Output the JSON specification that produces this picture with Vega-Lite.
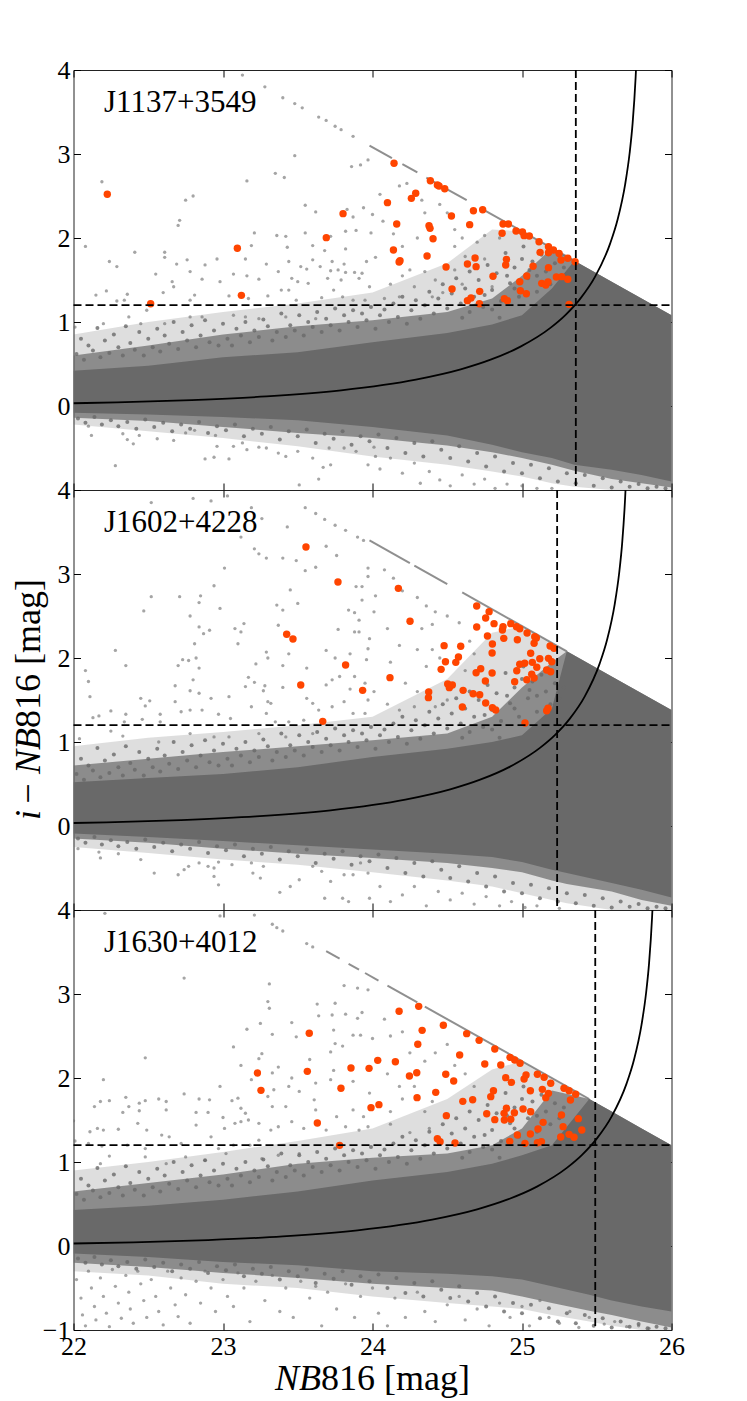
{
"$schema":"https://vega.github.io/schema/vega-lite/v6.json",
"padding":{"left":10.5,"top":56,"right":0,"bottom":0},
"spacing":0,
"bounds":"flush",
"background":"white",
"config":{"view":{"stroke":"#222","strokeWidth":1,"continuousWidth":598,"continuousHeight":420},
"axis":{"grid":false,"domain":false,"tickSize":-7,"tickColor":"black","tickWidth":1,"labelFont":"Liberation Serif","labelFontSize":26,"labelColor":"black","labelPadding":10.5,"title":null,"zindex":1,"labelFlush":false,"labelOverlap":false,"labelBound":false}},
"datasets":{
"f":[{"x":22.02,"y":0.62},{"x":22.05,"y":0.8},{"x":22.07,"y":0.55},{"x":22.1,"y":0.72},{"x":22.13,"y":0.66},{"x":22.16,"y":0.93},{"x":22.18,"y":0.58},{"x":22.21,"y":0.78},{"x":22.24,"y":0.63},{"x":22.27,"y":0.85},{"x":22.3,"y":0.7},{"x":22.33,"y":0.6},{"x":22.35,"y":0.95},{"x":22.38,"y":0.75},{"x":22.41,"y":0.67},{"x":22.44,"y":0.88},{"x":22.47,"y":0.6},{"x":22.5,"y":0.8},{"x":22.53,"y":0.7},{"x":22.56,"y":0.92},{"x":22.58,"y":0.65},{"x":22.61,"y":0.84},{"x":22.64,"y":0.74},{"x":22.67,"y":1.0},{"x":22.7,"y":0.68},{"x":22.73,"y":0.88},{"x":22.76,"y":0.78},{"x":22.79,"y":0.96},{"x":22.82,"y":0.7},{"x":22.85,"y":0.84},{"x":22.88,"y":1.02},{"x":22.91,"y":0.76},{"x":22.94,"y":0.9},{"x":22.97,"y":0.72},{"x":23,"y":0.98},{"x":23.03,"y":0.8},{"x":23.06,"y":0.72},{"x":23.09,"y":0.92},{"x":23.12,"y":0.84},{"x":23.15,"y":1.0},{"x":23.18,"y":0.76},{"x":23.21,"y":0.9},{"x":23.24,"y":0.82},{"x":23.27,"y":1.03},{"x":23.3,"y":0.95},{"x":23.33,"y":0.78},{"x":23.36,"y":0.88},{"x":23.39,"y":1.1},{"x":23.42,"y":0.82},{"x":23.45,"y":0.96},{"x":23.48,"y":0.9},{"x":23.51,"y":1.08},{"x":23.54,"y":0.84},{"x":23.57,"y":1.0},{"x":23.6,"y":0.94},{"x":23.63,"y":1.12},{"x":23.66,"y":0.88},{"x":23.69,"y":1.04},{"x":23.72,"y":0.96},{"x":23.75,"y":1.16},{"x":23.78,"y":0.9},{"x":23.81,"y":1.08},{"x":23.84,"y":1.0},{"x":23.87,"y":1.14},{"x":23.9,"y":0.94},{"x":23.93,"y":1.1},{"x":23.96,"y":1.02},{"x":23.99,"y":1.18},{"x":24.02,"y":0.92},{"x":24.05,"y":1.08},{"x":24.08,"y":1.15},{"x":24.11,"y":1.0},{"x":24.14,"y":1.22},{"x":24.17,"y":1.06},{"x":24.2,"y":1.3},{"x":24.23,"y":0.98},{"x":24.26,"y":1.14},{"x":24.29,"y":1.26},{"x":24.32,"y":1.04},{"x":24.35,"y":1.2},{"x":24.38,"y":1.36},{"x":24.41,"y":1.1},{"x":24.44,"y":1.28},{"x":24.47,"y":1.45},{"x":24.5,"y":1.16},{"x":24.53,"y":1.34},{"x":24.56,"y":1.52},{"x":24.59,"y":1.22},{"x":24.62,"y":1.4},{"x":24.65,"y":1.6},{"x":24.68,"y":1.3},{"x":24.71,"y":1.5},{"x":24.74,"y":1.18},{"x":24.77,"y":1.68},{"x":24.8,"y":1.38},{"x":24.83,"y":1.58},{"x":24.86,"y":1.25},{"x":24.89,"y":1.82},{"x":24.92,"y":1.46},{"x":24.95,"y":1.65},{"x":24.98,"y":1.3},{"x":25.01,"y":1.9},{"x":25.04,"y":1.52},{"x":25.07,"y":1.72},{"x":25.1,"y":1.36},{"x":25.13,"y":1.8},{"x":25.16,"y":1.6},{"x":25.19,"y":1.45},{"x":25.22,"y":1.7},{"x":25.25,"y":1.52},{"x":25.28,"y":1.65},{"x":24.9,"y":1.55},{"x":24.95,"y":1.4},{"x":25,"y":1.75},{"x":25.05,"y":1.62},{"x":25.1,"y":1.55},{"x":24.8,"y":1.15},{"x":24.85,"y":1.05},{"x":24.75,"y":1.32},{"x":24.6,"y":1.05},{"x":24.65,"y":1.12},{"x":22.03,"y":-0.15},{"x":22.08,"y":-0.2},{"x":22.14,"y":-0.13},{"x":22.19,"y":-0.22},{"x":22.25,"y":-0.17},{"x":22.3,"y":-0.24},{"x":22.36,"y":-0.19},{"x":22.42,"y":-0.27},{"x":22.48,"y":-0.16},{"x":22.54,"y":-0.25},{"x":22.6,"y":-0.2},{"x":22.66,"y":-0.3},{"x":22.72,"y":-0.22},{"x":22.78,"y":-0.27},{"x":22.84,"y":-0.19},{"x":22.9,"y":-0.32},{"x":22.96,"y":-0.24},{"x":23.02,"y":-0.29},{"x":23.08,"y":-0.22},{"x":23.14,"y":-0.36},{"x":23.2,"y":-0.27},{"x":23.26,"y":-0.33},{"x":23.32,"y":-0.25},{"x":23.38,"y":-0.4},{"x":23.44,"y":-0.3},{"x":23.5,"y":-0.36},{"x":23.56,"y":-0.28},{"x":23.62,"y":-0.44},{"x":23.68,"y":-0.33},{"x":23.74,"y":-0.39},{"x":23.8,"y":-0.3},{"x":23.86,"y":-0.46},{"x":23.92,"y":-0.36},{"x":23.98,"y":-0.42},{"x":24.04,"y":-0.34},{"x":24.1,"y":-0.5},{"x":24.16,"y":-0.38},{"x":24.22,"y":-0.56},{"x":24.28,"y":-0.44},{"x":24.34,"y":-0.6},{"x":24.4,"y":-0.42},{"x":24.46,"y":-0.52},{"x":24.52,"y":-0.62},{"x":24.58,"y":-0.48},{"x":24.64,"y":-0.66},{"x":24.7,"y":-0.56},{"x":24.76,"y":-0.72},{"x":24.82,"y":-0.6},{"x":24.88,"y":-0.78},{"x":24.94,"y":-0.68},{"x":25,"y":-0.8},{"x":25.06,"y":-0.7},{"x":25.12,"y":-0.86},{"x":25.18,"y":-0.74},{"x":25.24,"y":-0.9},{"x":25.3,"y":-0.8},{"x":25.36,"y":-0.92},{"x":25.42,"y":-0.82},{"x":25.48,"y":-0.95},{"x":25.54,"y":-0.86},{"x":25.6,"y":-0.97},{"x":25.66,"y":-0.9},{"x":25.72,"y":-0.96},{"x":25.78,"y":-0.93},{"x":25.84,"y":-0.98},{"x":25.9,"y":-0.96},{"x":25.96,"y":-0.98}],
"b1":[
{"x":22,"l2":-0.22,"l1":-0.14,"l0":-0.08,"h0":0.42,"h1":0.6,"h2":0.85},
{"x":22.5,"l2":-0.3,"l1":-0.18,"l0":-0.1,"h0":0.48,"h1":0.72,"h2":1.0},
{"x":23,"l2":-0.38,"l1":-0.25,"l0":-0.13,"h0":0.58,"h1":0.85,"h2":1.12},
{"x":23.5,"l2":-0.48,"l1":-0.32,"l0":-0.17,"h0":0.64,"h1":0.95,"h2":1.22},
{"x":24,"l2":-0.6,"l1":-0.38,"l0":-0.25,"h0":0.76,"h1":1.02,"h2":1.35},
{"x":24.5,"l2":-0.7,"l1":-0.47,"l0":-0.35,"h0":0.87,"h1":1.12,"h2":1.7},
{"x":24.8,"l2":-0.78,"l1":-0.55,"l0":-0.46,"h0":0.97,"h1":1.28,"h2":2.1},
{"x":25,"l2":-0.84,"l1":-0.62,"l0":-0.55,"h0":1.08,"h1":1.55,"h2":2.08},
{"x":25.2,"l2":-0.92,"l1":-0.7,"l0":-0.62,"h0":1.4,"h1":1.88,"h2":1.88},
{"x":25.35,"l2":-0.96,"l1":-0.77,"l0":-0.7,"h0":1.73,"h1":1.73,"h2":1.73},
{"x":25.6,"l2":-1,"l1":-0.87,"l0":-0.76,"h0":1.48,"h1":1.48,"h2":1.48},
{"x":25.8,"l2":-1,"l1":-0.92,"l0":-0.82,"h0":1.28,"h1":1.28,"h2":1.28},
{"x":26,"l2":-1,"l1":-0.97,"l0":-0.9,"h0":1.08,"h1":1.08,"h2":1.08}],
"b2":[
{"x":22,"l2":-0.25,"l1":-0.15,"l0":-0.09,"h0":0.52,"h1":0.72,"h2":0.95},
{"x":22.5,"l2":-0.32,"l1":-0.2,"l0":-0.13,"h0":0.57,"h1":0.8,"h2":1.05},
{"x":23,"l2":-0.4,"l1":-0.27,"l0":-0.18,"h0":0.62,"h1":0.88,"h2":1.12},
{"x":23.5,"l2":-0.46,"l1":-0.33,"l0":-0.23,"h0":0.7,"h1":0.95,"h2":1.2},
{"x":24,"l2":-0.55,"l1":-0.38,"l0":-0.28,"h0":0.82,"h1":1.02,"h2":1.3},
{"x":24.5,"l2":-0.65,"l1":-0.44,"l0":-0.33,"h0":0.92,"h1":1.1,"h2":1.75},
{"x":24.8,"l2":-0.72,"l1":-0.5,"l0":-0.37,"h0":1.0,"h1":1.3,"h2":2.3},
{"x":25,"l2":-0.8,"l1":-0.55,"l0":-0.43,"h0":1.08,"h1":1.65,"h2":2.38},
{"x":25.2,"l2":-0.88,"l1":-0.65,"l0":-0.52,"h0":1.4,"h1":1.95,"h2":2.18},
{"x":25.3,"l2":-0.92,"l1":-0.69,"l0":-0.56,"h0":2.08,"h1":2.08,"h2":2.08},
{"x":25.6,"l2":-1,"l1":-0.78,"l0":-0.68,"h0":1.78,"h1":1.78,"h2":1.78},
{"x":25.8,"l2":-1,"l1":-0.88,"l0":-0.76,"h0":1.58,"h1":1.58,"h2":1.58},
{"x":26,"l2":-1,"l1":-0.95,"l0":-0.85,"h0":1.38,"h1":1.38,"h2":1.38}],
"b3":[
{"x":22,"l2":-0.3,"l1":-0.2,"l0":-0.09,"h0":0.43,"h1":0.65,"h2":0.9},
{"x":22.5,"l2":-0.35,"l1":-0.25,"l0":-0.13,"h0":0.48,"h1":0.75,"h2":1.0},
{"x":23,"l2":-0.45,"l1":-0.32,"l0":-0.19,"h0":0.55,"h1":0.85,"h2":1.12},
{"x":23.5,"l2":-0.5,"l1":-0.38,"l0":-0.23,"h0":0.65,"h1":0.98,"h2":1.25},
{"x":24,"l2":-0.6,"l1":-0.45,"l0":-0.3,"h0":0.78,"h1":1.05,"h2":1.4},
{"x":24.5,"l2":-0.68,"l1":-0.5,"l0":-0.33,"h0":0.88,"h1":1.1,"h2":1.75},
{"x":24.8,"l2":-0.72,"l1":-0.53,"l0":-0.36,"h0":0.98,"h1":1.2,"h2":2.1},
{"x":25,"l2":-0.75,"l1":-0.6,"l0":-0.4,"h0":1.08,"h1":1.4,"h2":2.2},
{"x":25.2,"l2":-0.82,"l1":-0.68,"l0":-0.48,"h0":1.2,"h1":1.85,"h2":2.0},
{"x":25.45,"l2":-0.9,"l1":-0.77,"l0":-0.58,"h0":1.75,"h1":1.75,"h2":1.75},
{"x":25.6,"l2":-0.95,"l1":-0.82,"l0":-0.65,"h0":1.6,"h1":1.6,"h2":1.6},
{"x":25.8,"l2":-1,"l1":-0.9,"l0":-0.72,"h0":1.4,"h1":1.4,"h2":1.4},
{"x":26,"l2":-1,"l1":-0.97,"l0":-0.78,"h0":1.2,"h1":1.2,"h2":1.2}],
"c1":[{"x":22,"y":0.033},{"x":22.29,"y":0.044},{"x":22.79,"y":0.071},{"x":23.29,"y":0.114},{"x":23.79,"y":0.187},{"x":24.29,"y":0.314},{"x":24.59,"y":0.436},{"x":24.79,"y":0.551},{"x":24.99,"y":0.707},{"x":25.19,"y":0.93},{"x":25.29,"y":1.082},{"x":25.39,"y":1.278},{"x":25.49,"y":1.543},{"x":25.59,"y":1.936},{"x":25.64,"y":2.223},{"x":25.69,"y":2.639},{"x":25.72,"y":3.012},{"x":25.74,"y":3.367},{"x":25.76,"y":3.91},{"x":25.764,"y":4.06}],
"c2":[{"x":22,"y":0.036},{"x":22.22,"y":0.044},{"x":22.72,"y":0.071},{"x":23.22,"y":0.114},{"x":23.72,"y":0.187},{"x":24.22,"y":0.314},{"x":24.52,"y":0.436},{"x":24.72,"y":0.551},{"x":24.92,"y":0.707},{"x":25.12,"y":0.93},{"x":25.22,"y":1.082},{"x":25.32,"y":1.278},{"x":25.42,"y":1.543},{"x":25.52,"y":1.936},{"x":25.57,"y":2.223},{"x":25.62,"y":2.639},{"x":25.65,"y":3.012},{"x":25.67,"y":3.367},{"x":25.69,"y":3.91},{"x":25.694,"y":4.06}],
"c3":[{"x":22,"y":0.03},{"x":22.4,"y":0.044},{"x":22.9,"y":0.071},{"x":23.4,"y":0.114},{"x":23.9,"y":0.187},{"x":24.4,"y":0.314},{"x":24.7,"y":0.436},{"x":24.9,"y":0.551},{"x":25.1,"y":0.707},{"x":25.3,"y":0.93},{"x":25.4,"y":1.082},{"x":25.5,"y":1.278},{"x":25.6,"y":1.543},{"x":25.7,"y":1.936},{"x":25.75,"y":2.223},{"x":25.8,"y":2.639},{"x":25.83,"y":3.012},{"x":25.85,"y":3.367},{"x":25.87,"y":3.91},{"x":25.874,"y":4.06}],
"r1":[{"s":1,"x":23.98,"y":3.1},{"s":1,"x":24.13,"y":2.95},{"s":2,"x":24.2,"y":2.88},{"s":2,"x":24.3,"y":2.78},{"s":3,"x":24.36,"y":2.72},{"s":3,"x":24.42,"y":2.66},{"s":4,"x":24.5,"y":2.58},{"s":4,"x":24.63,"y":2.45},{"s":5,"x":24.72,"y":2.36},{"s":5,"x":25.35,"y":1.73}],
"r2":[{"s":1,"x":23.98,"y":3.4},{"s":1,"x":24.25,"y":3.13},{"s":2,"x":24.28,"y":3.1},{"s":2,"x":24.5,"y":2.88},{"s":3,"x":24.6,"y":2.78},{"s":3,"x":25.3,"y":2.08}],
"r3":[{"s":1,"x":23.69,"y":3.51},{"s":1,"x":23.78,"y":3.42},{"s":2,"x":23.84,"y":3.36},{"s":2,"x":23.91,"y":3.29},{"s":3,"x":23.95,"y":3.25},{"s":3,"x":24.04,"y":3.16},{"s":4,"x":24.1,"y":3.1},{"s":4,"x":24.3,"y":2.9},{"s":5,"x":24.35,"y":2.85},{"s":5,"x":25.45,"y":1.75}],
"o1":[{"x":24.144,"y":2.889},{"x":24.387,"y":2.682},{"x":24.434,"y":2.631},{"x":24.445,"y":2.619},{"x":24.483,"y":2.587},{"x":24.289,"y":2.532},{"x":24.26,"y":2.472},{"x":24.1,"y":2.421},{"x":24.162,"y":2.167},{"x":24.378,"y":2.147},{"x":24.385,"y":2.115},{"x":24.405,"y":1.992},{"x":24.528,"y":2.262},{"x":24.675,"y":2.325},{"x":24.737,"y":2.337},{"x":24.65,"y":2.159},{"x":24.873,"y":2.167},{"x":24.909,"y":2.167},{"x":24.867,"y":2.056},{"x":24.96,"y":2.083},{"x":25.003,"y":2.071},{"x":25.014,"y":2.028},{"x":25.049,"y":2.024},{"x":25.114,"y":1.956},{"x":25.121,"y":1.829},{"x":25.177,"y":1.897},{"x":25.177,"y":1.825},{"x":25.21,"y":1.857},{"x":25.248,"y":1.817},{"x":25.261,"y":1.738},{"x":25.306,"y":1.758},{"x":25.355,"y":1.718},{"x":25.074,"y":1.663},{"x":25.177,"y":1.647},{"x":25.032,"y":1.548},{"x":24.985,"y":1.48},{"x":25.23,"y":1.536},{"x":25.266,"y":1.54},{"x":25.306,"y":1.508},{"x":25.132,"y":1.46},{"x":25.159,"y":1.44},{"x":25.174,"y":1.476},{"x":24.14,"y":1.857},{"x":24.184,"y":1.73},{"x":24.178,"y":1.714},{"x":24.365,"y":1.786},{"x":24.492,"y":1.655},{"x":24.635,"y":1.69},{"x":24.686,"y":1.762},{"x":24.693,"y":1.659},{"x":24.806,"y":1.544},{"x":24.532,"y":1.393},{"x":24.717,"y":1.365},{"x":24.896,"y":1.746},{"x":24.891,"y":1.679},{"x":24.989,"y":1.373},{"x":25.029,"y":1.337},{"x":24.635,"y":1.254},{"x":24.659,"y":1.286},{"x":24.715,"y":1.218},{"x":24.882,"y":1.278},{"x":24.902,"y":1.254},{"x":25.315,"y":1.21},{"x":22.226,"y":2.52},{"x":22.516,"y":1.218},{"x":23.096,"y":1.877},{"x":23.123,"y":1.317},{"x":23.691,"y":2.004},{"x":23.803,"y":2.29}],
"o2":[{"x":24.173,"y":2.829},{"x":24.251,"y":2.437},{"x":24.697,"y":2.619},{"x":24.78,"y":2.552},{"x":24.757,"y":2.476},{"x":24.813,"y":2.409},{"x":24.697,"y":2.369},{"x":24.873,"y":2.373},{"x":24.869,"y":2.333},{"x":24.925,"y":2.409},{"x":24.963,"y":2.373},{"x":24.985,"y":2.349},{"x":25.034,"y":2.298},{"x":25.085,"y":2.254},{"x":25.096,"y":2.238},{"x":25.081,"y":2.175},{"x":24.769,"y":2.262},{"x":24.878,"y":2.234},{"x":24.969,"y":2.218},{"x":24.802,"y":2.167},{"x":24.8,"y":2.06},{"x":24.479,"y":2.147},{"x":24.59,"y":2.139},{"x":24.575,"y":2.012},{"x":24.557,"y":1.948},{"x":24.488,"y":1.956},{"x":24.459,"y":1.865},{"x":24.117,"y":1.766},{"x":24.724,"y":1.873},{"x":24.693,"y":1.825},{"x":24.8,"y":1.821},{"x":24.755,"y":1.726},{"x":24.951,"y":1.718},{"x":24.965,"y":1.849},{"x":24.985,"y":1.925},{"x":25.018,"y":1.937},{"x":25.069,"y":1.948},{"x":25.058,"y":2.056},{"x":25.119,"y":1.992},{"x":25.099,"y":1.889},{"x":25.188,"y":2.143},{"x":25.214,"y":2.115},{"x":25.177,"y":1.996},{"x":25.199,"y":1.956},{"x":25.165,"y":1.857},{"x":25.192,"y":1.837},{"x":25.065,"y":1.806},{"x":25.081,"y":1.762},{"x":25.032,"y":1.742},{"x":24.503,"y":1.69},{"x":24.534,"y":1.679},{"x":24.514,"y":1.647},{"x":24.606,"y":1.615},{"x":24.673,"y":1.575},{"x":24.717,"y":1.563},{"x":24.376,"y":1.595},{"x":24.374,"y":1.528},{"x":24.757,"y":1.464},{"x":24.802,"y":1.409},{"x":24.824,"y":1.381},{"x":24.601,"y":1.417},{"x":25.174,"y":1.401},{"x":25.165,"y":1.373},{"x":25.02,"y":1.226},{"x":23.555,"y":3.321},{"x":23.769,"y":2.905},{"x":23.426,"y":2.282},{"x":23.468,"y":2.226},{"x":23.82,"y":1.917},{"x":23.52,"y":1.679},{"x":23.934,"y":1.615},{"x":23.667,"y":1.246}],
"o3":[{"x":23.577,"y":2.532},{"x":23.23,"y":2.06},{"x":23.254,"y":1.853},{"x":23.564,"y":2.079},{"x":23.856,"y":2.119},{"x":23.977,"y":2.115},{"x":24.035,"y":2.21},{"x":23.789,"y":1.877},{"x":23.99,"y":1.647},{"x":24.043,"y":1.683},{"x":23.631,"y":1.464},{"x":23.78,"y":1.198},{"x":24.178,"y":2.794},{"x":24.309,"y":2.853},{"x":24.332,"y":2.567},{"x":24.474,"y":2.627},{"x":24.303,"y":2.401},{"x":24.63,"y":2.528},{"x":24.713,"y":2.448},{"x":24.818,"y":2.345},{"x":24.153,"y":2.194},{"x":24.583,"y":2.274},{"x":24.751,"y":2.167},{"x":24.858,"y":2.155},{"x":24.92,"y":2.246},{"x":24.951,"y":2.214},{"x":24.987,"y":2.175},{"x":24.296,"y":2.063},{"x":24.247,"y":2.024},{"x":24.49,"y":2.044},{"x":24.543,"y":1.964},{"x":24.891,"y":2.004},{"x":24.929,"y":1.948},{"x":25.027,"y":2.036},{"x":25.014,"y":1.988},{"x":25.103,"y":2.044},{"x":25.148,"y":2.008},{"x":25.192,"y":1.937},{"x":25.281,"y":1.877},{"x":25.315,"y":1.849},{"x":25.359,"y":1.806},{"x":24.423,"y":1.829},{"x":24.298,"y":1.766},{"x":24.809,"y":1.849},{"x":24.791,"y":1.778},{"x":25.056,"y":1.849},{"x":25.136,"y":1.865},{"x":25.177,"y":1.817},{"x":25.159,"y":1.766},{"x":25.324,"y":1.738},{"x":24.67,"y":1.742},{"x":24.604,"y":1.722},{"x":24.494,"y":1.552},{"x":24.764,"y":1.575},{"x":24.818,"y":1.504},{"x":24.88,"y":1.579},{"x":24.896,"y":1.639},{"x":24.949,"y":1.587},{"x":24.882,"y":1.5},{"x":24.925,"y":1.508},{"x":25.007,"y":1.631},{"x":25.058,"y":1.599},{"x":25.264,"y":1.56},{"x":25.377,"y":1.516},{"x":25.141,"y":1.472},{"x":25.107,"y":1.393},{"x":25.275,"y":1.421},{"x":25.4,"y":1.381},{"x":24.969,"y":1.321},{"x":25.056,"y":1.333},{"x":25.259,"y":1.298},{"x":25.315,"y":1.329},{"x":25.348,"y":1.294},{"x":24.434,"y":1.278},{"x":24.452,"y":1.242},{"x":24.552,"y":1.226},{"x":24.918,"y":1.246},{"x":25.02,"y":1.222},{"x":25.103,"y":1.23},{"x":25.13,"y":1.242}],
"g1":[{"x":22.19,"y":2.67},{"x":22.08,"y":1.9},{"x":22.24,"y":1.72},{"x":22.29,"y":1.66},{"x":22.41,"y":1.83},{"x":22.55,"y":1.57},{"x":22.61,"y":1.83},{"x":22.61,"y":1.77},{"x":22.69,"y":1.69},{"x":22.76,"y":1.74},{"x":22.78,"y":1.6},{"x":22.66,"y":1.48},{"x":22.67,"y":1.42},{"x":22.86,"y":1.51},{"x":22.98,"y":1.48},{"x":22.88,"y":1.68},{"x":22.96,"y":1.75},{"x":22.75,"y":2.45},{"x":22.8,"y":2.5},{"x":22.71,"y":2.21},{"x":22.7,"y":2.15},{"x":23.16,"y":2.68},{"x":23.13,"y":3.94},{"x":23.28,"y":3.8},{"x":23.4,"y":3.67},{"x":23.48,"y":3.6},{"x":23.53,"y":3.55},{"x":23.64,"y":3.44},{"x":23.69,"y":3.4},{"x":23.75,"y":3.33},{"x":23.79,"y":3.29},{"x":23.87,"y":3.21},{"x":23.48,"y":2.98},{"x":23.35,"y":2.77},{"x":23.41,"y":2.72},{"x":23.55,"y":2.39},{"x":23.62,"y":2.31},{"x":23.86,"y":2.85},{"x":23.92,"y":2.87},{"x":23.97,"y":2.93},{"x":23.94,"y":2.36},{"x":24.0,"y":2.28},{"x":23.83,"y":2.34},{"x":23.87,"y":2.25},{"x":23.21,"y":2.06},{"x":23.36,"y":2.03},{"x":23.42,"y":2.02},{"x":23.55,"y":2.06},{"x":23.43,"y":1.89},{"x":23.6,"y":1.91},{"x":23.68,"y":1.85},{"x":23.72,"y":2.02},{"x":23.82,"y":2.08},{"x":23.89,"y":2.09},{"x":23.99,"y":2.06},{"x":23.82,"y":1.87},{"x":23.19,"y":1.91},{"x":23.15,"y":1.75},{"x":23.29,"y":1.69},{"x":23.44,"y":1.72},{"x":23.6,"y":1.74},{"x":23.52,"y":1.66},{"x":23.56,"y":1.63},{"x":23.65,"y":1.66},{"x":23.73,"y":1.72},{"x":23.72,"y":1.61},{"x":23.77,"y":1.62},{"x":23.81,"y":1.69},{"x":23.82,"y":1.59},{"x":23.88,"y":1.59},{"x":23.93,"y":1.58},{"x":23.96,"y":1.72},{"x":24.02,"y":1.77},{"x":23.07,"y":1.57},{"x":23.16,"y":1.55},{"x":23.24,"y":1.51},{"x":23.37,"y":1.6},{"x":23.46,"y":1.52},{"x":23.5,"y":1.48},{"x":23.57,"y":1.46},{"x":23.7,"y":1.52},{"x":23.79,"y":1.5},{"x":23.91,"y":1.52},{"x":23.98,"y":1.42},{"x":22.15,"y":1.32},{"x":22.22,"y":1.37},{"x":22.29,"y":1.25},{"x":22.34,"y":1.26},{"x":22.36,"y":1.33},{"x":22.49,"y":1.14},{"x":22.6,"y":1.35},{"x":22.81,"y":1.32},{"x":22.78,"y":1.26},{"x":23.04,"y":1.31},{"x":23.17,"y":1.28},{"x":23.3,"y":1.31},{"x":23.39,"y":1.38},{"x":23.44,"y":1.38},{"x":23.49,"y":1.26},{"x":23.66,"y":1.29},{"x":23.74,"y":1.38},{"x":23.8,"y":1.3},{"x":23.87,"y":1.26},{"x":23.95,"y":1.26},{"x":22.37,"y":1.06},{"x":22.01,"y":0.94},{"x":22.2,"y":0.98},{"x":22.45,"y":0.98},{"x":22.61,"y":0.98},{"x":22.78,"y":1.06},{"x":22.86,"y":1.06},{"x":23.07,"y":1.08},{"x":23.15,"y":1.06},{"x":23.24,"y":1.04},{"x":23.42,"y":1.06},{"x":23.62,"y":1.04},{"x":22.12,"y":-0.35},{"x":22.1,"y":-0.24},{"x":22.28,"y":-0.71},{"x":22.33,"y":-0.33},{"x":22.36,"y":-0.4},{"x":22.4,"y":-0.45},{"x":22.44,"y":-0.35},{"x":22.56,"y":-0.39},{"x":22.67,"y":-0.41},{"x":22.75,"y":-0.32},{"x":22.81,"y":-0.29},{"x":22.88,"y":-0.63},{"x":22.94,"y":-0.61},{"x":22.95,"y":-0.35},{"x":22.96,"y":-0.48},{"x":23.04,"y":-0.63},{"x":23.07,"y":-0.48},{"x":23.13,"y":-0.44},{"x":23.16,"y":-0.52},{"x":23.24,"y":-0.49},{"x":23.29,"y":-0.5},{"x":23.37,"y":-0.56},{"x":23.42,"y":-0.6},{"x":23.5,"y":-0.54},{"x":23.51,"y":-0.94},{"x":23.6,"y":-0.62},{"x":23.64,"y":-0.87},{"x":23.67,"y":-0.73},{"x":23.72,"y":-0.7},{"x":23.71,"y":-0.5},{"x":23.81,"y":-0.5},{"x":23.89,"y":-0.54},{"x":23.97,"y":-0.7},{"x":24.01,"y":-0.49},{"x":24.02,"y":-0.6},{"x":24.05,"y":2.52},{"x":24.18,"y":2.62},{"x":24.23,"y":2.65},{"x":24.07,"y":2.2},{"x":24.14,"y":2.05},{"x":24.2,"y":1.9},{"x":24.3,"y":2.0},{"x":24.35,"y":2.3},{"x":24.33,"y":2.45},{"x":24.45,"y":2.4},{"x":24.5,"y":2.3},{"x":24.55,"y":2.1},{"x":24.6,"y":2.0},{"x":24.55,"y":1.9},{"x":24.62,"y":1.78},{"x":24.7,"y":1.95},{"x":24.75,"y":2.03},{"x":24.85,"y":2.0},{"x":24.12,"y":1.45},{"x":24.2,"y":1.55},{"x":24.28,"y":1.42},{"x":24.35,"y":1.6},{"x":24.42,"y":1.5},{"x":24.47,"y":1.35},{"x":24.55,"y":1.62},{"x":24.6,"y":1.45},{"x":24.75,"y":1.75},{"x":24.8,"y":1.42},{"x":24.08,"y":1.28},{"x":24.18,"y":1.3},{"x":24.25,"y":1.62},{"x":24.4,"y":1.3},{"x":24.05,"y":-0.75},{"x":24.12,"y":-0.62},{"x":24.2,"y":-0.8},{"x":24.28,"y":-0.68},{"x":24.32,"y":-0.92},{"x":24.38,"y":-0.78},{"x":24.45,"y":-0.88},{"x":24.52,"y":-0.95},{"x":24.6,"y":-0.82},{"x":24.68,"y":-0.93},{"x":24.75,"y":-0.87},{"x":24.82,"y":-0.98},{"x":24.9,"y":-0.93},{"x":25,"y":-0.95},{"x":25.1,"y":-0.98},{"x":25.2,"y":-0.98}],
"g2":[{"x":22.52,"y":3.85},{"x":22.8,"y":3.9},{"x":22.92,"y":3.87},{"x":23.03,"y":3.93},{"x":23.19,"y":3.79},{"x":23.26,"y":3.66},{"x":23.12,"y":3.44},{"x":23.21,"y":3.3},{"x":23.24,"y":3.24},{"x":23.29,"y":3.19},{"x":23.4,"y":3.19},{"x":23.49,"y":3.16},{"x":23.43,"y":3.56},{"x":23.55,"y":3.79},{"x":23.62,"y":3.72},{"x":23.68,"y":3.65},{"x":23.75,"y":3.58},{"x":23.82,"y":3.52},{"x":23.9,"y":3.44},{"x":23.94,"y":3.4},{"x":23.69,"y":3.33},{"x":23.76,"y":3.22},{"x":23.62,"y":3.08},{"x":23.55,"y":3.04},{"x":23.45,"y":2.81},{"x":23.97,"y":3.07},{"x":23.01,"y":3.07},{"x":22.94,"y":2.86},{"x":22.98,"y":2.59},{"x":22.71,"y":2.73},{"x":22.52,"y":2.73},{"x":22.47,"y":2.56},{"x":22.85,"y":2.74},{"x":22.84,"y":2.66},{"x":22.78,"y":2.5},{"x":22.84,"y":2.37},{"x":22.87,"y":2.29},{"x":22.91,"y":2.33},{"x":22.81,"y":2.17},{"x":22.28,"y":2.09},{"x":22.35,"y":1.91},{"x":22.08,"y":1.85},{"x":22.1,"y":1.72},{"x":22.11,"y":1.54},{"x":22.7,"y":1.91},{"x":22.73,"y":1.98},{"x":22.77,"y":1.97},{"x":22.82,"y":2.0},{"x":22.84,"y":1.88},{"x":22.8,"y":1.74},{"x":22.68,"y":1.67},{"x":22.78,"y":1.61},{"x":22.84,"y":1.58},{"x":22.45,"y":1.52},{"x":22.51,"y":1.49},{"x":22.48,"y":1.43},{"x":22.68,"y":1.48},{"x":22.92,"y":1.52},{"x":23.04,"y":1.54},{"x":23.08,"y":2.35},{"x":23.14,"y":2.41},{"x":23.12,"y":2.31},{"x":23.1,"y":2.17},{"x":23.29,"y":2.07},{"x":23.3,"y":2.0},{"x":23.22,"y":1.93},{"x":23.4,"y":1.91},{"x":23.44,"y":2.05},{"x":23.56,"y":1.88},{"x":23.36,"y":2.63},{"x":23.4,"y":2.57},{"x":23.5,"y":2.65},{"x":23.37,"y":2.39},{"x":23.17,"y":1.77},{"x":23.21,"y":1.71},{"x":23.15,"y":1.66},{"x":23.28,"y":1.67},{"x":23.27,"y":1.61},{"x":23.3,"y":1.48},{"x":23.4,"y":1.65},{"x":23.56,"y":1.52},{"x":23.6,"y":1.46},{"x":23.69,"y":1.68},{"x":23.73,"y":1.74},{"x":23.78,"y":1.78},{"x":23.75,"y":2.0},{"x":23.85,"y":2.05},{"x":23.69,"y":2.09},{"x":23.77,"y":2.34},{"x":23.88,"y":2.31},{"x":23.91,"y":2.31},{"x":23.84,"y":2.57},{"x":23.88,"y":2.54},{"x":23.91,"y":2.45},{"x":23.89,"y":2.85},{"x":23.93,"y":2.85},{"x":23.93,"y":2.69},{"x":24.02,"y":2.74},{"x":24.01,"y":2.55},{"x":23.97,"y":2.97},{"x":23.98,"y":2.23},{"x":23.97,"y":2.11},{"x":23.96,"y":1.98},{"x":23.85,"y":1.63},{"x":23.88,"y":1.78},{"x":23.95,"y":1.7},{"x":24.01,"y":1.6},{"x":23.97,"y":1.5},{"x":22.17,"y":1.31},{"x":22.25,"y":1.37},{"x":22.13,"y":1.29},{"x":22.35,"y":1.33},{"x":22.34,"y":1.24},{"x":22.46,"y":1.27},{"x":22.58,"y":1.33},{"x":22.58,"y":1.24},{"x":22.72,"y":1.36},{"x":22.78,"y":1.38},{"x":22.86,"y":1.38},{"x":22.97,"y":1.33},{"x":23.05,"y":1.28},{"x":23.19,"y":1.42},{"x":23.29,"y":1.34},{"x":23.32,"y":1.46},{"x":23.35,"y":1.24},{"x":23.44,"y":1.24},{"x":23.54,"y":1.26},{"x":23.64,"y":1.38},{"x":23.73,"y":1.42},{"x":23.81,"y":1.48},{"x":23.87,"y":1.34},{"x":23.95,"y":1.34},{"x":22.33,"y":1.07},{"x":22.25,"y":1.13},{"x":22.04,"y":1.04},{"x":22.57,"y":1.0},{"x":22.78,"y":1.1},{"x":22.94,"y":1.06},{"x":23.04,"y":1.06},{"x":23.24,"y":1.1},{"x":23.42,"y":1.06},{"x":23.6,"y":1.1},{"x":22.03,"y":-0.27},{"x":22.17,"y":-0.31},{"x":22.18,"y":-0.38},{"x":22.3,"y":-0.33},{"x":22.45,"y":-0.4},{"x":22.54,"y":-0.56},{"x":22.7,"y":-0.58},{"x":22.74,"y":-0.52},{"x":22.77,"y":-0.48},{"x":22.84,"y":-0.44},{"x":22.9,"y":-0.48},{"x":22.94,"y":-0.5},{"x":22.94,"y":-0.6},{"x":22.97,"y":-0.7},{"x":22.97,"y":-0.43},{"x":23.06,"y":-0.46},{"x":23.19,"y":-0.44},{"x":23.2,"y":-0.56},{"x":23.25,"y":-0.62},{"x":23.27,"y":-0.48},{"x":23.38,"y":-0.79},{"x":23.45,"y":-0.72},{"x":23.51,"y":-0.64},{"x":23.6,"y":-0.48},{"x":23.66,"y":-0.54},{"x":23.68,"y":-0.86},{"x":23.72,"y":-0.66},{"x":23.8,"y":-0.86},{"x":23.84,"y":-0.9},{"x":23.81,"y":-0.58},{"x":23.87,"y":-0.58},{"x":23.98,"y":-0.86},{"x":23.97,"y":-0.56},{"x":23.92,"y":-0.44},{"x":24.08,"y":3.05},{"x":24.14,"y":2.95},{"x":24.2,"y":2.8},{"x":24.3,"y":2.72},{"x":24.36,"y":2.62},{"x":24.42,"y":2.55},{"x":24.33,"y":2.35},{"x":24.4,"y":2.4},{"x":24.5,"y":2.5},{"x":24.58,"y":2.42},{"x":24.1,"y":2.35},{"x":24.18,"y":2.15},{"x":24.3,"y":2.1},{"x":24.36,"y":1.9},{"x":24.12,"y":1.95},{"x":24.22,"y":1.7},{"x":24.3,"y":1.6},{"x":24.1,"y":1.45},{"x":24.18,"y":1.38},{"x":24.28,"y":1.42},{"x":24.42,"y":1.42},{"x":24.5,"y":1.5},{"x":24.62,"y":1.85},{"x":24.65,"y":2.2},{"x":24.68,"y":2.05},{"x":24.4,"y":2.1},{"x":24.45,"y":2.0},{"x":24.05,"y":-0.72},{"x":24.12,"y":-0.9},{"x":24.2,"y":-0.82},{"x":24.28,"y":-0.72},{"x":24.36,"y":-0.95},{"x":24.44,"y":-0.78},{"x":24.52,"y":-0.88},{"x":24.6,"y":-0.8},{"x":24.68,"y":-0.93},{"x":24.76,"y":-0.84},{"x":24.85,"y":-0.95},{"x":24.93,"y":-0.9},{"x":25.02,"y":-0.97},{"x":25.1,"y":-0.95},{"x":25.25,"y":-0.98}],
"g3":[{"x":22.21,"y":3.96},{"x":22.98,"y":3.93},{"x":23.21,"y":3.94},{"x":23.33,"y":3.83},{"x":23.36,"y":3.79},{"x":23.4,"y":3.75},{"x":23.56,"y":3.6},{"x":23.6,"y":3.56},{"x":22.74,"y":3.19},{"x":23.31,"y":3.12},{"x":23.3,"y":2.91},{"x":23.31,"y":2.83},{"x":23.63,"y":2.88},{"x":23.75,"y":2.89},{"x":23.81,"y":3.1},{"x":23.9,"y":3.07},{"x":23.97,"y":3.05},{"x":23.64,"y":2.74},{"x":23.73,"y":2.75},{"x":23.82,"y":2.76},{"x":23.74,"y":2.57},{"x":23.9,"y":2.71},{"x":23.93,"y":2.78},{"x":23.16,"y":2.58},{"x":23.25,"y":2.65},{"x":23.33,"y":2.52},{"x":23.46,"y":2.66},{"x":23.49,"y":2.49},{"x":23.87,"y":2.51},{"x":23.92,"y":2.51},{"x":24.0,"y":2.47},{"x":22.48,"y":2.24},{"x":23.07,"y":2.37},{"x":23.26,"y":2.29},{"x":23.24,"y":2.23},{"x":23.12,"y":2.15},{"x":23.58,"y":2.22},{"x":23.72,"y":2.31},{"x":23.75,"y":2.41},{"x":23.8,"y":2.38},{"x":22.2,"y":1.98},{"x":22.98,"y":1.9},{"x":23.19,"y":1.98},{"x":23.37,"y":2.13},{"x":23.33,"y":2.06},{"x":23.46,"y":2.0},{"x":23.44,"y":1.9},{"x":23.51,"y":1.84},{"x":23.62,"y":1.94},{"x":23.74,"y":2.09},{"x":23.72,"y":1.98},{"x":23.87,"y":1.96},{"x":23.98,"y":1.82},{"x":22.14,"y":1.66},{"x":22.18,"y":1.72},{"x":22.24,"y":1.73},{"x":22.35,"y":1.77},{"x":22.37,"y":1.66},{"x":22.33,"y":1.59},{"x":22.44,"y":1.7},{"x":22.44,"y":1.61},{"x":22.48,"y":1.73},{"x":22.57,"y":1.75},{"x":22.62,"y":1.72},{"x":22.62,"y":1.62},{"x":22.74,"y":1.81},{"x":22.84,"y":1.75},{"x":22.82,"y":1.59},{"x":22.91,"y":1.74},{"x":22.9,"y":1.59},{"x":23.06,"y":1.73},{"x":23.1,"y":1.76},{"x":23.12,"y":1.64},{"x":23.15,"y":1.58},{"x":23.3,"y":1.78},{"x":23.33,"y":1.66},{"x":23.42,"y":1.66},{"x":23.34,"y":1.86},{"x":23.61,"y":1.74},{"x":23.62,"y":1.62},{"x":23.76,"y":1.54},{"x":23.87,"y":1.62},{"x":23.94,"y":1.54},{"x":22.0,"y":1.49},{"x":22.11,"y":1.36},{"x":22.16,"y":1.4},{"x":22.2,"y":1.38},{"x":22.3,"y":1.39},{"x":22.43,"y":1.46},{"x":22.49,"y":1.38},{"x":22.59,"y":1.32},{"x":22.64,"y":1.3},{"x":22.82,"y":1.44},{"x":23.01,"y":1.4},{"x":23.0,"y":1.53},{"x":22.92,"y":1.3},{"x":23.08,"y":1.46},{"x":23.12,"y":1.48},{"x":23.17,"y":1.5},{"x":23.24,"y":1.46},{"x":23.32,"y":1.38},{"x":23.37,"y":1.42},{"x":23.46,"y":1.48},{"x":23.54,"y":1.4},{"x":23.24,"y":1.26},{"x":23.69,"y":1.38},{"x":23.82,"y":1.42},{"x":23.91,"y":1.38},{"x":23.97,"y":1.42},{"x":22.01,"y":1.25},{"x":22.1,"y":1.22},{"x":22.19,"y":1.19},{"x":22.36,"y":1.2},{"x":22.48,"y":1.16},{"x":22.72,"y":1.22},{"x":22.97,"y":1.16},{"x":23.07,"y":1.2},{"x":23.18,"y":1.2},{"x":22.24,"y":1.07},{"x":22.18,"y":0.98},{"x":22.48,"y":1.06},{"x":22.62,"y":0.98},{"x":22.75,"y":1.06},{"x":22.88,"y":1.02},{"x":23.02,"y":1.1},{"x":23.26,"y":1.04},{"x":23.37,"y":1.08},{"x":23.51,"y":1.1},{"x":22.02,"y":-0.4},{"x":22.05,"y":-0.62},{"x":22.06,"y":-0.82},{"x":22.08,"y":-0.95},{"x":22.1,"y":-0.3},{"x":22.12,"y":-0.5},{"x":22.14,"y":-0.72},{"x":22.15,"y":-0.88},{"x":22.18,"y":-0.38},{"x":22.2,"y":-0.6},{"x":22.22,"y":-0.8},{"x":22.24,"y":-0.96},{"x":22.26,"y":-0.28},{"x":22.28,"y":-0.48},{"x":22.3,"y":-0.68},{"x":22.32,"y":-0.86},{"x":22.35,"y":-0.35},{"x":22.37,"y":-0.55},{"x":22.38,"y":-0.75},{"x":22.4,"y":-0.92},{"x":22.43,"y":-0.3},{"x":22.45,"y":-0.45},{"x":22.47,"y":-0.65},{"x":22.49,"y":-0.85},{"x":22.52,"y":-0.4},{"x":22.55,"y":-0.6},{"x":22.57,"y":-0.78},{"x":22.6,"y":-0.94},{"x":22.63,"y":-0.3},{"x":22.65,"y":-0.5},{"x":22.68,"y":-0.7},{"x":22.7,"y":-0.84},{"x":22.72,"y":-0.38},{"x":22.75,"y":-0.58},{"x":22.78,"y":-0.92},{"x":22.82,"y":-0.42},{"x":22.85,"y":-0.68},{"x":22.88,"y":-0.3},{"x":22.92,"y":-0.5},{"x":22.95,"y":-0.78},{"x":23.0,"y":-0.4},{"x":23.03,"y":-0.6},{"x":23.07,"y":-0.72},{"x":23.1,"y":-0.32},{"x":23.14,"y":-0.5},{"x":23.18,"y":-0.9},{"x":23.22,"y":-0.42},{"x":23.28,"y":-0.65},{"x":23.33,"y":-0.35},{"x":23.38,"y":-0.78},{"x":23.42,"y":-0.5},{"x":23.47,"y":-0.85},{"x":23.52,"y":-0.42},{"x":23.58,"y":-0.62},{"x":23.62,"y":-0.48},{"x":23.66,"y":-0.95},{"x":23.7,"y":-0.55},{"x":23.76,"y":-0.75},{"x":23.82,"y":-0.45},{"x":23.88,"y":-0.85},{"x":23.92,"y":-0.6},{"x":24,"y":-0.5},{"x":24.04,"y":-0.8},{"x":24.1,"y":-0.95},{"x":24.15,"y":-0.62},{"x":24.22,"y":-0.85},{"x":24.3,"y":-0.55},{"x":24.35,"y":-0.78},{"x":24.42,"y":-0.9},{"x":24.5,"y":-0.7},{"x":24.58,"y":-0.6},{"x":24.62,"y":-0.88},{"x":24.7,"y":-0.75},{"x":24.78,"y":-0.95},{"x":24.85,"y":-0.68},{"x":24.92,"y":-0.85},{"x":25,"y":-0.72},{"x":25.05,"y":-0.95},{"x":25.12,"y":-0.65},{"x":25.18,"y":-0.85},{"x":25.25,"y":-0.92},{"x":25.32,"y":-0.78},{"x":25.38,"y":-0.97},{"x":25.45,"y":-0.85},{"x":25.55,"y":-0.93},{"x":25.62,"y":-0.9},{"x":25.7,"y":-0.96},{"x":25.78,"y":-0.95},{"x":25.85,"y":-0.98},{"x":24.08,"y":2.7},{"x":24.12,"y":2.5},{"x":24.2,"y":2.55},{"x":24.25,"y":2.3},{"x":24.1,"y":2.05},{"x":24.18,"y":1.9},{"x":24.28,"y":1.9},{"x":24.35,"y":2.2},{"x":24.42,"y":2.3},{"x":24.5,"y":2.4},{"x":24.55,"y":2.15},{"x":24.62,"y":2.05},{"x":24.68,"y":1.9},{"x":24.12,"y":1.6},{"x":24.2,"y":1.75},{"x":24.35,"y":1.6},{"x":24.4,"y":1.72},{"x":24.12,"y":1.45},{"x":24.25,"y":1.35},{"x":24.38,"y":1.4}]
},
"vconcat":[
{"width":598,"height":420,
"encoding":{"x":{"field":"x","type":"quantitative","scale":{"domain":[22,26],"nice":false,"zero":false},"axis":null},"y":{"field":"y","type":"quantitative","scale":{"domain":[-1,4],"nice":false,"zero":false},"axis":null}},
"resolve":{"axis":{"x":"independent","y":"independent"}},
"layer":[
{"data":{"name":"b1"},"mark":{"type":"area","color":"#696969","opacity":0.22,"clip":true},"encoding":{"y":{"field":"l2","type":"quantitative","scale":{"domain":[-1,4],"nice":false,"zero":false},"axis":null},"y2":{"field":"h2"}}},
{"data":{"name":"b1"},"mark":{"type":"area","color":"#696969","opacity":0.7,"clip":true},"encoding":{"y":{"field":"l1","type":"quantitative","scale":{"domain":[-1,4],"nice":false,"zero":false},"axis":null},"y2":{"field":"h1"}}},
{"data":{"name":"b1"},"mark":{"type":"area","color":"#696969","opacity":1,"clip":true},"encoding":{"y":{"field":"l0","type":"quantitative","scale":{"domain":[-1,4],"nice":false,"zero":false},"axis":null},"y2":{"field":"h0"}}},
{"data":{"name":"f"},"mark":{"type":"circle","color":"#696969","opacity":0.8,"size":16,"clip":true},"transform":[{"filter":"datum.y<27.08-datum.x"}]},
{"data":{"name":"g1"},"mark":{"type":"circle","color":"#696969","opacity":0.6,"size":11,"clip":true}},
{"data":{"name":"r1"},"mark":{"type":"line","color":"#696969","opacity":0.75,"strokeWidth":2,"clip":true},"encoding":{"detail":{"field":"s"}}},
{"data":{"name":"o1"},"mark":{"type":"circle","color":"#ff4500","opacity":1,"size":55,"clip":true},"encoding":{"x":{"field":"x","type":"quantitative","scale":{"domain":[22,26],"nice":false,"zero":false},"axis":{"orient":"top","values":[22,23,24,25,26],"labels":false,"title":null}},"y":{"field":"y","type":"quantitative","scale":{"domain":[-1,4],"nice":false,"zero":false},"axis":{"orient":"right","values":[0,1,2,3,4],"labels":false,"title":null}}}},
{"data":{"values":[{"x":22,"x2":26,"y":1.2}]},"mark":{"type":"rule","color":"black","strokeWidth":1.8,"strokeDash":[8,4]},"encoding":{"x2":{"field":"x2"}}},
{"data":{"values":[{"x":25.36,"y":4,"y2":-1}]},"mark":{"type":"rule","color":"black","strokeWidth":1.8,"strokeDash":[8,4]},"encoding":{"y2":{"field":"y2"}}},
{"data":{"name":"c1"},"mark":{"type":"line","color":"black","strokeWidth":1.8,"interpolate":"monotone","clip":true},"encoding":{"x":{"field":"x","type":"quantitative","scale":{"domain":[22,26],"nice":false,"zero":false},"axis":{"orient":"bottom","values":[22,23,24,25,26],"labels":false,"title":null}},"y":{"field":"y","type":"quantitative","scale":{"domain":[-1,4],"nice":false,"zero":false},"axis":{"orient":"left","values":[0,1,2,3,4],"title":null}}}},
{"data":{"values":[{"x":22.204,"y":3.5,"t":"J1137+3549"}]},"mark":{"type":"text","font":"Liberation Serif","fontSize":31,"align":"left","baseline":"alphabetic","color":"black"},"encoding":{"text":{"field":"t"}}}
]},
{"width":598,"height":420,
"encoding":{"x":{"field":"x","type":"quantitative","scale":{"domain":[22,26],"nice":false,"zero":false},"axis":null},"y":{"field":"y","type":"quantitative","scale":{"domain":[-1,4],"nice":false,"zero":false},"axis":null}},
"resolve":{"axis":{"x":"independent","y":"independent"}},
"layer":[
{"data":{"name":"b2"},"mark":{"type":"area","color":"#696969","opacity":0.22,"clip":true},"encoding":{"y":{"field":"l2","type":"quantitative","scale":{"domain":[-1,4],"nice":false,"zero":false},"axis":null},"y2":{"field":"h2"}}},
{"data":{"name":"b2"},"mark":{"type":"area","color":"#696969","opacity":0.7,"clip":true},"encoding":{"y":{"field":"l1","type":"quantitative","scale":{"domain":[-1,4],"nice":false,"zero":false},"axis":null},"y2":{"field":"h1"}}},
{"data":{"name":"b2"},"mark":{"type":"area","color":"#696969","opacity":1,"clip":true},"encoding":{"y":{"field":"l0","type":"quantitative","scale":{"domain":[-1,4],"nice":false,"zero":false},"axis":null},"y2":{"field":"h0"}}},
{"data":{"name":"f"},"mark":{"type":"circle","color":"#696969","opacity":0.8,"size":16,"clip":true}},
{"data":{"name":"g2"},"mark":{"type":"circle","color":"#696969","opacity":0.6,"size":11,"clip":true}},
{"data":{"name":"r2"},"mark":{"type":"line","color":"#696969","opacity":0.75,"strokeWidth":2,"clip":true},"encoding":{"detail":{"field":"s"}}},
{"data":{"name":"o2"},"mark":{"type":"circle","color":"#ff4500","opacity":1,"size":55,"clip":true},"encoding":{"x":{"field":"x","type":"quantitative","scale":{"domain":[22,26],"nice":false,"zero":false},"axis":{"orient":"top","values":[22,23,24,25,26],"labels":false,"title":null}},"y":{"field":"y","type":"quantitative","scale":{"domain":[-1,4],"nice":false,"zero":false},"axis":{"orient":"right","values":[0,1,2,3,4],"labels":false,"title":null}}}},
{"data":{"values":[{"x":22,"x2":26,"y":1.2}]},"mark":{"type":"rule","color":"black","strokeWidth":1.8,"strokeDash":[8,4]},"encoding":{"x2":{"field":"x2"}}},
{"data":{"values":[{"x":25.235,"y":4,"y2":-1}]},"mark":{"type":"rule","color":"black","strokeWidth":1.8,"strokeDash":[8,4]},"encoding":{"y2":{"field":"y2"}}},
{"data":{"name":"c2"},"mark":{"type":"line","color":"black","strokeWidth":1.8,"interpolate":"monotone","clip":true},"encoding":{"x":{"field":"x","type":"quantitative","scale":{"domain":[22,26],"nice":false,"zero":false},"axis":{"orient":"bottom","values":[22,23,24,25,26],"labels":false,"title":null}},"y":{"field":"y","type":"quantitative","scale":{"domain":[-1,4],"nice":false,"zero":false},"axis":{"orient":"left","values":[0,1,2,3,4],"title":null}}}},
{"data":{"values":[{"x":22.204,"y":3.5,"t":"J1602+4228"}]},"mark":{"type":"text","font":"Liberation Serif","fontSize":31,"align":"left","baseline":"alphabetic","color":"black"},"encoding":{"text":{"field":"t"}}},
{"data":{"values":[{"x":21.776,"y":0.071,"t":"i"}]},"mark":{"type":"text","font":"Liberation Serif","fontSize":36,"fontStyle":"italic","angle":270,"align":"left","baseline":"alphabetic","color":"black"},"encoding":{"text":{"field":"t"}}},
{"data":{"values":[{"x":21.776,"y":1.167,"t":"NB"}]},"mark":{"type":"text","font":"Liberation Serif","fontSize":36,"fontStyle":"italic","angle":270,"align":"right","baseline":"alphabetic","color":"black"},"encoding":{"text":{"field":"t"}}},
{"data":{"values":[{"x":21.776,"y":0.387,"t":"−"}]},"mark":{"type":"text","font":"Liberation Serif","fontSize":36,"angle":270,"align":"center","baseline":"alphabetic","color":"black"},"encoding":{"text":{"field":"t"}}},
{"data":{"values":[{"x":21.776,"y":1.167,"t":"816 [mag]"}]},"mark":{"type":"text","font":"Liberation Serif","fontSize":36,"angle":270,"align":"left","baseline":"alphabetic","color":"black"},"encoding":{"text":{"field":"t"}}}
]},
{"width":598,"height":420,
"encoding":{"x":{"field":"x","type":"quantitative","scale":{"domain":[22,26],"nice":false,"zero":false},"axis":null},"y":{"field":"y","type":"quantitative","scale":{"domain":[-1,4],"nice":false,"zero":false},"axis":null}},
"resolve":{"axis":{"x":"independent","y":"independent"}},
"layer":[
{"data":{"name":"b3"},"mark":{"type":"area","color":"#696969","opacity":0.22,"clip":true},"encoding":{"y":{"field":"l2","type":"quantitative","scale":{"domain":[-1,4],"nice":false,"zero":false},"axis":null},"y2":{"field":"h2"}}},
{"data":{"name":"b3"},"mark":{"type":"area","color":"#696969","opacity":0.7,"clip":true},"encoding":{"y":{"field":"l1","type":"quantitative","scale":{"domain":[-1,4],"nice":false,"zero":false},"axis":null},"y2":{"field":"h1"}}},
{"data":{"name":"b3"},"mark":{"type":"area","color":"#696969","opacity":1,"clip":true},"encoding":{"y":{"field":"l0","type":"quantitative","scale":{"domain":[-1,4],"nice":false,"zero":false},"axis":null},"y2":{"field":"h0"}}},
{"data":{"name":"f"},"mark":{"type":"circle","color":"#696969","opacity":0.8,"size":16,"clip":true}},
{"data":{"name":"g3"},"mark":{"type":"circle","color":"#696969","opacity":0.6,"size":11,"clip":true}},
{"data":{"name":"r3"},"mark":{"type":"line","color":"#696969","opacity":0.75,"strokeWidth":2,"clip":true},"encoding":{"detail":{"field":"s"}}},
{"data":{"name":"o3"},"mark":{"type":"circle","color":"#ff4500","opacity":1,"size":55,"clip":true},"encoding":{"x":{"field":"x","type":"quantitative","scale":{"domain":[22,26],"nice":false,"zero":false},"axis":{"orient":"top","values":[22,23,24,25,26],"labels":false,"title":null}},"y":{"field":"y","type":"quantitative","scale":{"domain":[-1,4],"nice":false,"zero":false},"axis":{"orient":"right","values":[0,1,2,3,4],"labels":false,"title":null}}}},
{"data":{"values":[{"x":22,"x2":26,"y":1.2}]},"mark":{"type":"rule","color":"black","strokeWidth":1.8,"strokeDash":[8,4]},"encoding":{"x2":{"field":"x2"}}},
{"data":{"values":[{"x":25.49,"y":4,"y2":-1}]},"mark":{"type":"rule","color":"black","strokeWidth":1.8,"strokeDash":[8,4]},"encoding":{"y2":{"field":"y2"}}},
{"data":{"name":"c3"},"mark":{"type":"line","color":"black","strokeWidth":1.8,"interpolate":"monotone","clip":true},"encoding":{"x":{"field":"x","type":"quantitative","scale":{"domain":[22,26],"nice":false,"zero":false},"axis":{"orient":"bottom","values":[22,23,24,25,26],"title":null}},"y":{"field":"y","type":"quantitative","scale":{"domain":[-1,4],"nice":false,"zero":false},"axis":{"orient":"left","values":[-1,0,1,2,3,4],"title":null}}}},
{"data":{"values":[{"x":22.204,"y":3.5,"t":"J1630+4012"}]},"mark":{"type":"text","font":"Liberation Serif","fontSize":31,"align":"left","baseline":"alphabetic","color":"black"},"encoding":{"text":{"field":"t"}}},
{"data":{"values":[{"x":23.655,"y":-1.714,"t":"NB"}]},"mark":{"type":"text","font":"Liberation Serif","fontSize":36,"fontStyle":"italic","align":"right","baseline":"alphabetic","color":"black"},"encoding":{"text":{"field":"t"}}},
{"data":{"values":[{"x":23.655,"y":-1.714,"t":"816 [mag]"}]},"mark":{"type":"text","font":"Liberation Serif","fontSize":36,"align":"left","baseline":"alphabetic","color":"black"},"encoding":{"text":{"field":"t"}}}
]}
]
}
